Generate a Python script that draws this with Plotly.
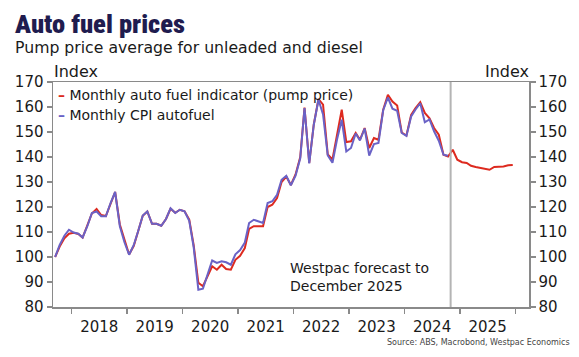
import pandas as pd
import plotly.graph_objects as go

# ---------------- data ----------------
FORECAST_START = "2024-11-01"

fuel_indicator = [
    100.0, 104.2, 107.5, 109.3, 109.7, 109.2, 107.8, 112.5, 117.4, 119.2,
    116.8, 116.4, 121.6, 126.0, 113.0, 106.8, 101.0, 104.5, 110.0, 116.5,
    118.2, 113.3, 113.3, 112.5, 115.2, 119.3, 117.7, 118.9, 118.3, 115.0,
    104.8, 89.7, 88.3, 92.5, 96.3, 94.9, 96.9, 95.2, 94.9, 98.9,
    100.5, 103.6, 111.2, 112.3, 112.3, 112.3, 120.0, 120.9, 123.6, 130.0,
    132.2, 128.8, 133.0, 140.0, 159.8, 137.6, 153.0, 163.2, 160.9, 141.0,
    139.0, 149.0, 158.9, 146.0, 146.3, 149.6, 146.9, 151.6, 143.6, 147.6,
    146.9, 158.9, 164.9, 162.2, 160.6, 149.8, 148.6, 156.8, 159.6, 161.9,
    157.6, 155.5, 151.6, 148.9, 140.9, 140.2, 142.9, 138.9, 137.9, 137.6,
    136.5, 136.0, 135.7, 135.2, 134.9, 136.0, 136.0, 136.2, 136.7, 136.8,
]

cpi_autofuel = [
    100.0, 104.8, 108.5, 110.9, 109.8, 109.3, 107.8, 112.3, 117.6, 118.2,
    116.3, 116.3, 121.6, 126.0, 112.3, 106.0, 100.9, 104.8, 110.2, 116.6,
    118.2, 113.3, 113.3, 112.5, 115.2, 119.5, 117.6, 118.9, 118.3, 114.5,
    104.0, 86.9, 87.3, 93.0, 98.6, 97.6, 98.3, 97.9, 96.9, 101.1,
    102.8, 105.8, 113.6, 114.9, 114.2, 113.6, 121.6, 122.3, 124.9, 130.9,
    132.5, 128.7, 132.5, 139.5, 159.6, 137.4, 152.9, 162.9, 157.0, 140.6,
    137.7, 147.0, 154.9, 142.2, 143.6, 149.4, 146.6, 151.4, 140.6, 145.2,
    145.6, 158.7, 163.8, 159.3, 158.5, 149.6, 148.4, 156.2, 159.0, 161.5,
    153.9, 155.0, 150.3, 146.5, 140.9, 140.5,
]

y_ticks = [80, 90, 100, 110, 120, 130, 140, 150, 160, 170]
x_range = ["2017-09-01", "2026-04-01"]

series_names = ["Monthly auto fuel indicator (pump price)", "Monthly CPI autofuel"]
RED = "#dd2a1f"
BLUE = "#6a62c6"

title_text = "Auto fuel prices"
subtitle_text = "Pump price average for unleaded and diesel"
axis_title = "Index"
forecast_note = "Westpac forecast to<br>December 2025"
source_text = "Source: ABS, Macrobond, Westpac Economics"

# ---------------- build ----------------
red_dates = pd.date_range("2017-09-01", periods=len(fuel_indicator), freq="MS") + pd.Timedelta(days=14)
blue_dates = red_dates[: len(cpi_autofuel)]

W, H = 579, 357
L, R, T, B = 53, 529, 82, 307

def px(xp):
    return (xp - L) / (R - L)

def py(yp):
    return (B - yp) / (B - T)

TXT = "#1a1a1a"
AX = "#8a8a8a"
FONT = "DejaVu Sans"

fig = go.Figure()
fig.add_trace(go.Scatter(x=red_dates, y=fuel_indicator, mode="lines", name=series_names[0],
                         line=dict(color=RED, width=2), showlegend=False))
fig.add_trace(go.Scatter(x=blue_dates, y=cpi_autofuel, mode="lines", name=series_names[1],
                         line=dict(color=BLUE, width=2), showlegend=False))
# invisible trace to carry the right-hand axis
fig.add_trace(go.Scatter(x=red_dates[:1], y=fuel_indicator[:1], yaxis="y2", mode="lines",
                         line=dict(width=0), hoverinfo="skip", showlegend=False))

fig.add_vline(x=FORECAST_START, line=dict(color="#b4b4b4", width=2))

fig.update_layout(
    width=W, height=H,
    margin=dict(l=L, r=W - R, t=T, b=H - B),
    paper_bgcolor="white", plot_bgcolor="white",
    font=dict(family=FONT, color=TXT, size=15),
    xaxis=dict(
        range=x_range, type="date", showgrid=False, zeroline=False,
        showline=True, linecolor=AX, linewidth=1.5, mirror=True,
        ticks="outside", ticklen=5, tickcolor=AX, tickwidth=1.5,
        dtick="M12", tick0="2018-01-01", ticklabelmode="period", tickformat="%Y",
        tickfont=dict(family=FONT, size=15, color=TXT),
    ),
    yaxis=dict(
        range=[y_ticks[0], y_ticks[-1]], tickvals=y_ticks, showgrid=False, zeroline=False,
        showline=True, linecolor=AX, linewidth=1.5, mirror=True,
        ticks="outside", ticklen=5, tickcolor=AX, tickwidth=1.5,
        tickfont=dict(family=FONT, size=15, color=TXT),
    ),
    yaxis2=dict(
        range=[y_ticks[0], y_ticks[-1]], tickvals=y_ticks, overlaying="y", side="right",
        anchor="x", showgrid=False, zeroline=False,
        showline=True, linecolor=AX, linewidth=1.5,
        ticks="outside", ticklen=5, tickcolor=AX, tickwidth=1.5,
        tickfont=dict(family=FONT, size=15, color=TXT),
    ),
)

ann = []
ann.append(dict(text=title_text, x=px(13), y=py(23), xanchor="left", yanchor="middle",
                font=dict(family="Noto Sans Condensed, Roboto Condensed, Liberation Sans Narrow, DejaVu Sans Condensed, sans-serif",
                          size=26.5, color="#1f1c4f", weight=900)))
ann.append(dict(text=subtitle_text, x=px(13), y=py(48), xanchor="left", yanchor="middle",
                font=dict(family=FONT, size=15.7, color=TXT)))
ann.append(dict(text=axis_title, x=px(52), y=py(72), xanchor="left", yanchor="middle",
                font=dict(family=FONT, size=16, color=TXT)))
ann.append(dict(text=axis_title, x=px(531), y=py(72), xanchor="right", yanchor="middle",
                font=dict(family=FONT, size=16, color=TXT)))
ann.append(dict(text="<b><span style='color:%s'>–</span></b> %s" % (RED, series_names[0]), x=px(56), y=py(95),
                xanchor="left", yanchor="middle", font=dict(family=FONT, size=14, color=TXT)))
ann.append(dict(text="<b><span style='color:%s'>–</span></b> %s" % (BLUE, series_names[1]), x=px(56), y=py(115),
                xanchor="left", yanchor="middle", font=dict(family=FONT, size=14, color=TXT)))
ann.append(dict(text=forecast_note, x=px(288), y=py(277), xanchor="left", yanchor="middle", align="left",
                font=dict(family=FONT, size=14, color=TXT)))
ann.append(dict(text=source_text, x=px(572), y=py(342), xanchor="right", yanchor="middle",
                font=dict(family=FONT, size=8, color="#444444")))
for a in ann:
    a.update(xref="paper", yref="paper", showarrow=False)
fig.update_layout(annotations=ann)

fig.write_html("out.html", config={"displayModeBar": False, "staticPlot": True},
               post_script="document.body.style.margin='0';document.body.style.overflow='hidden';")
